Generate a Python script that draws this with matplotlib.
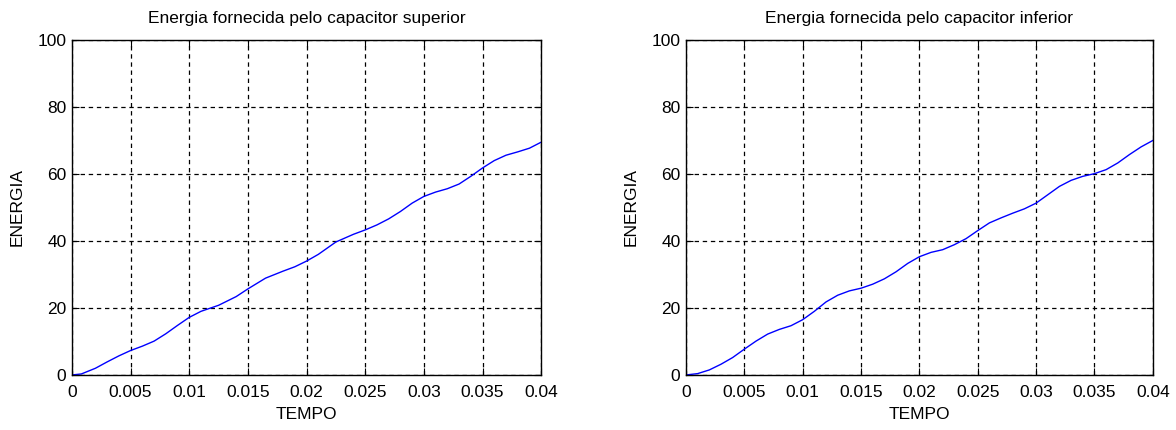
import matplotlib.pyplot as plt

plt.rcParams['font.family'] = ['Liberation Sans', 'DejaVu Sans']

# curve (capacitor superior)
t_sup = [0, 0.0008, 0.002, 0.003, 0.004, 0.005, 0.006, 0.007, 0.008, 0.009, 0.01,
         0.011, 0.0125, 0.014, 0.015, 0.0165, 0.018, 0.019, 0.02, 0.021, 0.0225,
         0.024, 0.025, 0.026, 0.027, 0.028, 0.029, 0.03, 0.031, 0.032, 0.033,
         0.034, 0.035, 0.036, 0.037, 0.038, 0.039, 0.04]
e_sup = [0, 0.3, 2.0, 3.9, 5.7, 7.3, 8.6, 10.1, 12.3, 14.8, 17.2,
         19.0, 20.8, 23.4, 25.7, 28.9, 31.0, 32.3, 34.0, 36.0, 39.7,
         42.0, 43.3, 44.8, 46.6, 48.8, 51.3, 53.3, 54.6, 55.6, 57.0,
         59.3, 61.8, 64.0, 65.6, 66.6, 67.7, 69.5]

# curve (capacitor inferior)
t_inf = [0, 0.001, 0.002, 0.003, 0.004, 0.005, 0.006, 0.007, 0.008, 0.009, 0.01,
         0.011, 0.012, 0.013, 0.014, 0.015, 0.016, 0.017, 0.018, 0.019, 0.02,
         0.021, 0.022, 0.023, 0.024, 0.025, 0.026, 0.027, 0.028, 0.029, 0.03,
         0.031, 0.032, 0.033, 0.034, 0.035, 0.036, 0.037, 0.038, 0.039, 0.04]
e_inf = [0, 0.4, 1.5, 3.2, 5.2, 7.7, 10.1, 12.2, 13.6, 14.7, 16.5,
         19.0, 21.8, 23.8, 25.1, 25.9, 27.1, 28.7, 30.8, 33.3, 35.3,
         36.6, 37.4, 38.9, 40.7, 43.1, 45.4, 46.9, 48.3, 49.6, 51.3,
         53.8, 56.3, 58.1, 59.3, 60.1, 61.3, 63.3, 65.8, 68.1, 70.0]

x_ticks = [0, 0.005, 0.01, 0.015, 0.02, 0.025, 0.03, 0.035, 0.04]
x_labels = ['0', '0.005', '0.01', '0.015', '0.02', '0.025', '0.03', '0.035', '0.04']
y_ticks = [0, 20, 40, 60, 80, 100]

titles = ['Energia fornecida pelo capacitor superior',
          'Energia fornecida pelo capacitor inferior']

fig = plt.figure(figsize=(11.76, 4.30), dpi=100)
ax1 = fig.add_axes([0.0612, 0.128, 0.399, 0.779])
ax2 = fig.add_axes([0.5833, 0.128, 0.397, 0.779])

for ax, t, e, title in [(ax1, t_sup, e_sup, titles[0]), (ax2, t_inf, e_inf, titles[1])]:
    ax.plot(t, e, color='#0000ff', linewidth=1)
    ax.set_xlim(0, 0.04)
    ax.set_ylim(0, 100)
    ax.set_xticks(x_ticks)
    ax.set_xticklabels(x_labels)
    ax.set_yticks(y_ticks)
    ax.grid(True, color='black', linestyle=(0, (3.5, 3)), linewidth=0.9)
    ax.tick_params(direction='in', top=True, right=True, labelsize=12.5, length=5)
    ax.tick_params(axis='x', pad=7)
    ax.tick_params(axis='y', pad=4)
    ax.set_title(title, fontsize=12.5, pad=12)
    ax.set_xlabel('TEMPO', fontsize=12.5, labelpad=5)
    ax.set_ylabel('ENERGIA', fontsize=12.5, labelpad=9)
    for s in ax.spines.values():
        s.set_linewidth(1)

fig.savefig('out.png', dpi=100)
